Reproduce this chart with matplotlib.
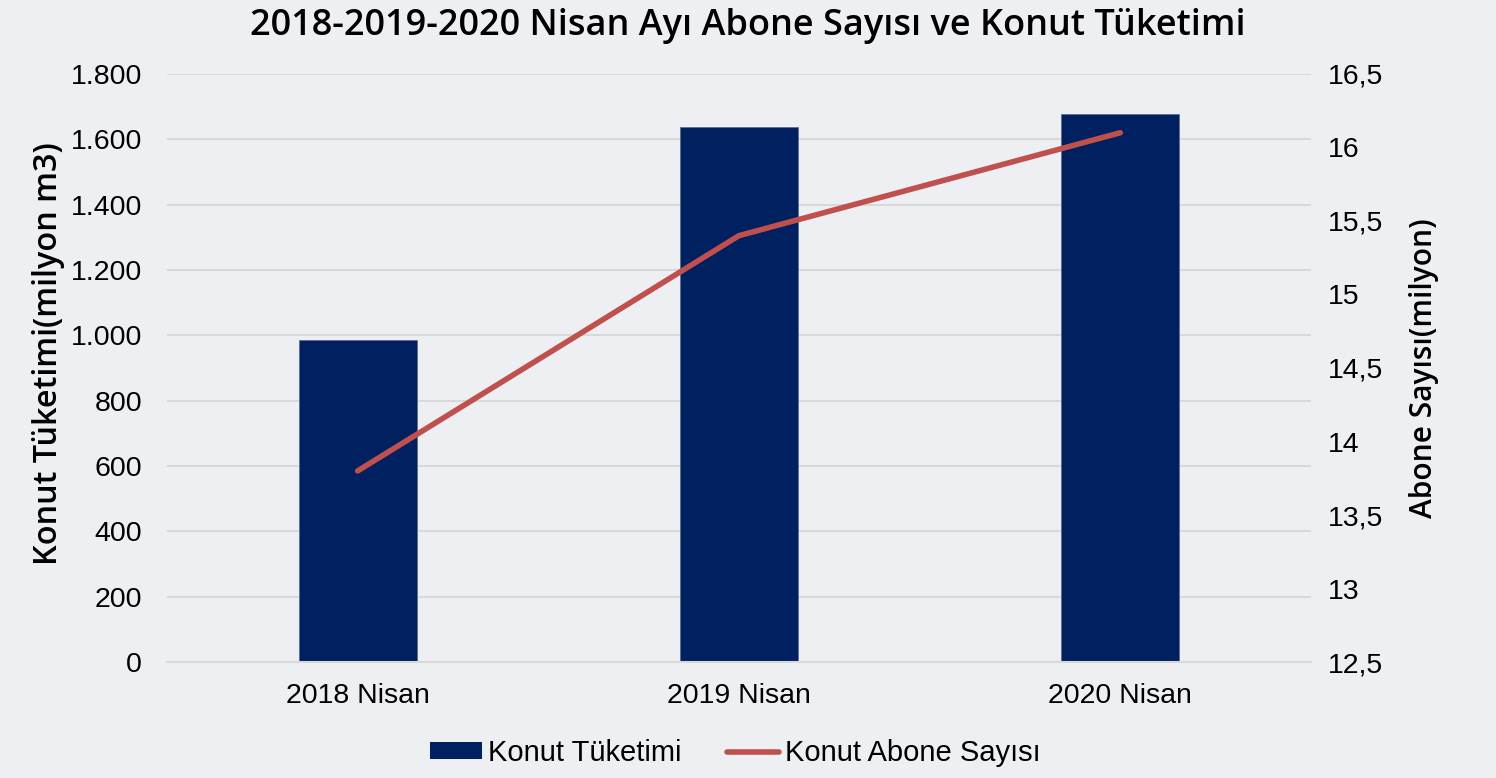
import matplotlib
matplotlib.use("Agg")
import matplotlib.pyplot as plt
from matplotlib.ticker import FuncFormatter, MultipleLocator
from matplotlib.patches import Patch
from matplotlib.lines import Line2D

categories = ["2018 Nisan", "2019 Nisan", "2020 Nisan"]
tuketim = [985, 1637, 1678]
abone = [13.8, 15.4, 16.1]

title = "2018-2019-2020 Nisan Ayı Abone Sayısı ve Konut Tüketimi"
left_label = "Konut Tüketimi(milyon m3)"
right_label = "Abone Sayısı(milyon)"
legend_labels = ["Konut Tüketimi", "Konut Abone Sayısı"]

bg = "#EEEFF3"
bar_color = "#002060"
line_color = "#C0504D"
grid_color = "#D9D9D9"
geo_font = ["Open Sans", "DejaVu Sans"]

plt.rcParams['font.family'] = ['Liberation Sans', 'DejaVu Sans']

fig = plt.figure(figsize=(14.96, 7.78), dpi=100, facecolor=bg)
ax = fig.add_axes([0.1116, 0.149, 0.7647, 0.756])
ax.set_facecolor(bg)
x = list(range(len(categories)))
ax.bar(x, tuketim, width=0.31, color=bar_color, zorder=2, edgecolor="#5a6f96", linewidth=0.6)
ax.set_xlim(-0.5, 2.5)
ax.set_ylim(0, 1800)
ax.yaxis.set_major_locator(MultipleLocator(200))
ax.yaxis.set_major_formatter(FuncFormatter(lambda v, p: f"{int(v):,}".replace(",", ".")))
ax.grid(axis="y", color=grid_color, linewidth=1.5, zorder=0)
ax.set_axisbelow(True)
for s in ["top", "right", "left"]:
    ax.spines[s].set_visible(False)
ax.spines["bottom"].set_color(grid_color)
ax.spines["bottom"].set_linewidth(1.5)
ax.set_xticks(x)
ax.set_xticklabels(categories)
ax.tick_params(axis="both", length=0, labelsize=20.5, colors="#000000")
ax.tick_params(axis="x", pad=15)
ax.tick_params(axis="y", pad=18)
ax.set_ylabel(left_label, fontsize=23.3, fontfamily=geo_font, fontweight="semibold")
ax.yaxis.set_label_coords(-0.089, 0.524)

ax2 = ax.twinx()
ax2.plot(x, abone, color=line_color, linewidth=4, solid_capstyle="round", zorder=3)
ax2.set_ylim(12.5, 16.5)
ax2.yaxis.set_major_locator(MultipleLocator(0.5))
def fmt_r(v, p):
    if abs(v - round(v)) < 1e-9:
        return f"{int(round(v))}"
    return f"{v:.1f}".replace(".", ",")
ax2.yaxis.set_major_formatter(FuncFormatter(fmt_r))
for s in ax2.spines.values():
    s.set_visible(False)
ax2.tick_params(axis="y", length=0, labelsize=20.5, pad=12)
ax2.set_ylabel(right_label, fontsize=21.5, fontfamily=geo_font, fontweight="semibold")
ax2.yaxis.set_label_coords(1.086, 0.5)

fig.suptitle(title, fontsize=26, fontfamily=geo_font, fontweight="semibold", y=0.99)

handles = [Patch(facecolor=bar_color), Line2D([0], [0], color=line_color, linewidth=4, solid_capstyle="round")]
fig.legend(handles, legend_labels, loc="center", bbox_to_anchor=(0.4917, 0.032), ncol=2,
           frameon=False, fontsize=21, handlelength=1.78, handleheight=0.5,
           handletextpad=0.2, columnspacing=1.57)

fig.savefig("out.png", dpi=100, facecolor=bg)
